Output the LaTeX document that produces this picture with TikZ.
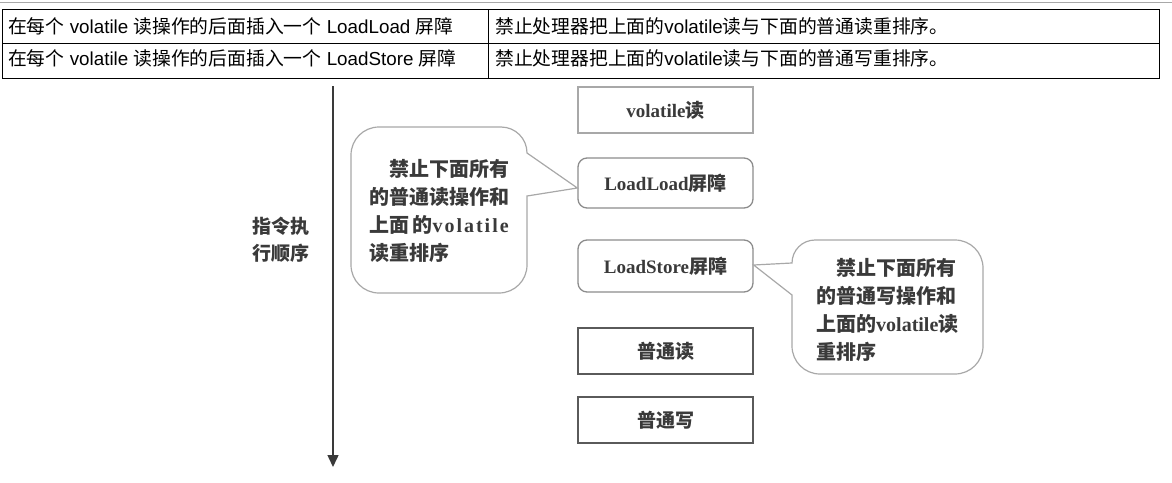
\documentclass[tikz,border=0pt]{standalone}
\usepackage{fontspec}
\setmainfont{Liberation Sans}
\newfontfamily\cjk{Noto Sans CJK SC}
\newfontfamily\serifL{Liberation Serif}
\usetikzlibrary{arrows.meta,calc}
\definecolor{txt}{HTML}{3A3A3A}
\definecolor{lgray}{HTML}{A8A8A8}
\definecolor{mgray}{HTML}{8C8C8C}
\definecolor{dgray}{HTML}{5A5A5A}
\newcommand\Zh[1]{{\cjk #1}}
\newcommand\Db[1]{{\cjk\bfseries #1}}
\newcommand\Lt[1]{{\serifL\bfseries #1}}
\begin{document}
\begin{tikzpicture}[x=1pt,y=-1pt,
  celltext/.style={anchor=base west,inner sep=0pt,font=\fontsize{18.8}{20}\selectfont},
  opbox/.style={draw=#1,line width=1.3pt,minimum width=175pt,inner sep=0pt,text=txt,
    font=\fontsize{19}{22}\selectfont},
  bubble/.style={draw=lgray,line width=1.2pt},
  bubtext/.style={anchor=base west,align=left,inner sep=0pt,text=txt,
    font=\fontsize{20}{28}\selectfont},
  flow/.style={draw=txt,line width=1.5pt,-{Triangle[width=11pt,length=12pt]}}]
\useasboundingbox (0,0) rectangle (1172,482);
% top rule
\draw[draw=lgray,line width=1.3pt] (0,2.5) -- (1172,2.5);
% table
\draw[line width=1.3pt] (2.7,9.5) rectangle (1159.3,78.3);
\draw[line width=1.3pt] (2.7,43.3) -- (1159.3,43.3);
\draw[line width=1.3pt] (488.3,9.5) -- (488.3,78.3);
\node[celltext] (c11) at (8,33) {\Zh{在每个} volatile \Zh{读操作的后面插入一个} LoadLoad \Zh{屏障}};
\node[celltext] (c12) at (495,33) {\Zh{禁止处理器把上面的}volatile\Zh{读与下面的普通读重排序。}};
\node[celltext] (c21) at (8,65) {\Zh{在每个} volatile \Zh{读操作的后面插入一个} LoadStore \Zh{屏障}};
\node[celltext] (c22) at (495,65) {\Zh{禁止处理器把上面的}volatile\Zh{读与下面的普通写重排序。}};
% flow arrow
\coordinate (atop) at (333,86);
\coordinate (abot) at (333,467);
\draw[flow] (atop) -- (abot);
\node[anchor=base,align=center,inner sep=0pt,text=txt,font=\fontsize{19}{27}\selectfont]
  (lab) at (281,260) {\Db{指令执}\\\Db{行顺序}};
% boxes
\node[opbox=lgray,minimum height=46pt] (vr) at (665.5,110) {\Lt{volatile}\Db{读}};
\node[opbox=mgray,minimum height=50pt,rounded corners=9pt] (ll) at (665.5,183) {\Lt{LoadLoad}\Db{屏障}};
\node[opbox=mgray,minimum height=52pt,rounded corners=9pt] (ls) at (665.5,266) {\Lt{LoadStore}\Db{屏障}};
\node[opbox=dgray,minimum height=46pt] (nr) at (665.5,351) {\Db{普通读}};
\node[opbox=dgray,minimum height=46pt] (nw) at (665.5,420) {\Db{普通写}};
% left bubble
\coordinate (tipL) at ($(ll.west)+(0,5)$);
\draw[bubble] (tipL) -- (527,196) -- (527,265)
  .. controls (527,280.5) and (514.5,293) .. (499,293) -- (379,293)
  .. controls (363.5,293) and (351,280.5) .. (351,265) -- (351,155)
  .. controls (351,139.5) and (363.5,127) .. (379,127) -- (501,127)
  .. controls (515.4,127) and (527,138.6) .. (527,153) -- cycle;
\node[bubtext] (tl) at (369,260) {\hspace{1em}\Db{禁止下面所有}\\\Db{的普通读操作和}\\\Db{上面\,的}{\serifL\bfseries\addfontfeature{LetterSpace=10}volatile}\\\Db{读重排序}};
% right bubble
\coordinate (tipR) at ($(ls.east)+(0,-1)$);
\draw[bubble] (tipR) -- (792,263)
  .. controls (792,250.3) and (802.3,240) .. (815,240) -- (955,240)
  .. controls (970.5,240) and (983,252.5) .. (983,268) -- (983,346)
  .. controls (983,361.5) and (970.5,374) .. (955,374) -- (820,374)
  .. controls (804.5,374) and (792,361.5) .. (792,346) -- (792,295) -- cycle;
\node[bubtext] (tr) at (816,359) {\hspace{1em}\Db{禁止下面所有}\\\Db{的普通写操作和}\\\Db{上面的}\Lt{volatile}\Db{读}\\\Db{重排序}};
\end{tikzpicture}
\end{document}
